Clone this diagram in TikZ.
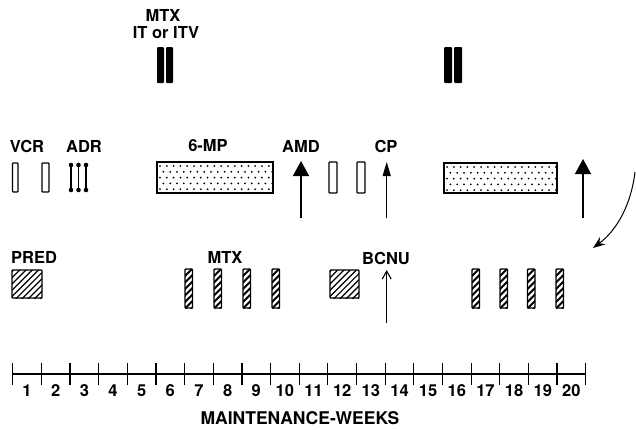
\documentclass[tikz,border=0pt]{standalone}
\usepackage{fontspec}
\setmainfont{TeX Gyre Heros}
\usetikzlibrary{arrows.meta}
\newcommand{\hatchrect}[6]{%
  \begin{scope}
    \clip (#1,#2) rectangle (#3,#4);
    \foreach \k in {0,#5,...,96} \draw[line width=#6] (#1-46+\k,#4+1) -- ++(70,-70);
  \end{scope}
  \draw[line width=1.3pt, rounded corners=0.8pt] (#1,#2) rectangle (#3,#4);
}
\newcommand{\stipplebox}[4]{%
  \begin{scope}
    \clip (#1,#2) rectangle (#3,#4);
    \foreach \r in {0,...,4} {
      \pgfmathsetmacro\off{mod(\r,2)*3.4}
      \foreach \xx in {0,6.8,...,120}
        \fill (#1+3+\off+\xx, #2+4+5.8*\r) circle (1.0);
    }
  \end{scope}
  \draw[line width=1.4pt] (#1,#2) rectangle (#3,#4);
}
\begin{document}
\begin{tikzpicture}[x=1pt,y=-1pt,
  lbl/.style={font=\fontsize{16.5}{19}\selectfont\bfseries, inner sep=0pt},
  pill/.style={draw, line width=1.3pt, rounded corners=0.8pt},
  solidbar/.style={fill=black, rounded corners=1pt},
  bigarrow/.style={line width=1.5pt, -{Triangle[width=16pt,length=15pt]}},
  thinarrow/.style={line width=1.1pt, -{Triangle[width=8pt,length=14pt]}},
  openarrow/.style={line width=1.1pt, -{Straight Barb[width=9pt,length=8pt]}},
  axisline/.style={line width=1.4pt}]
\useasboundingbox (0,0) rectangle (636,429);

% ---- top: MTX IT or ITV
\node[lbl] (mtxa) at (163,15) {MTX};
\node[lbl] (mtxb) at (166,33) {IT or ITV};
\fill[solidbar] (157,47) rectangle (164,83);
\fill[solidbar] (166,47) rectangle (173,83);
\fill[solidbar] (444,47) rectangle (452,83);
\fill[solidbar] (454,47) rectangle (462,83);

% ---- row 2
\node[lbl] (vcr) at (27,146) {VCR};
\node[lbl] (adr) at (84,146) {ADR};
\node[lbl] (mp) at (208,146) {6-MP};
\node[lbl] (amd) at (301,146) {AMD};
\node[lbl] (cp) at (386,146) {CP};

\draw[pill] (12.5,163) rectangle (18,192);
\draw[pill] (42,163) rectangle (49,192);
\foreach \x in {71,78.5,86} {
  \draw[line width=1.1pt] (\x,165) -- (\x,190);
  \fill (\x,165) circle (2.3);
  \fill (\x,190) circle (2.3);
}
\stipplebox{157}{162}{273}{193}
\coordinate (amdB) at (301,218);
\coordinate (amdT) at (301,161);
\draw[bigarrow] (amdB) -- (amdT);
\draw[pill] (329,162) rectangle (337,193);
\draw[pill] (357,162) rectangle (365,193);
\coordinate (cpB) at (386.7,218);
\coordinate (cpT) at (386.7,162);
\draw[thinarrow] (cpB) -- (cpT);
\stipplebox{444}{163}{557}{193}
\coordinate (rB) at (583,218);
\coordinate (rT) at (583,159);
\draw[bigarrow] (rB) -- (rT);
\coordinate (cS) at (635,172);
\coordinate (cE) at (593,248);
\draw[line width=1pt, -{Stealth[width=9pt,length=12pt]}] (cS) .. controls (631,205) and (617,230) .. (cE);

% ---- row 3
\node[lbl] (pred) at (34,257) {PRED};
\node[lbl] (mtx2) at (225,257) {MTX};
\node[lbl] (bcnu) at (386,258) {BCNU};
\hatchrect{12}{270}{42}{298}{6.2}{1.2pt}
\hatchrect{330}{270}{359}{298}{6.2}{1.2pt}
\foreach \x in {185,214,243,272,472,500,527.5,556}
  \hatchrect{\x}{269}{\x+7.5}{308}{6.5}{1.9pt}
\coordinate (bB) at (386.7,323);
\coordinate (bT) at (386.7,270);
\draw[openarrow] (bB) -- (bT);

% ---- axis
\coordinate (ax0) at (12.7,374);
\coordinate (ax20) at (585.7,374);
\draw[axisline] (ax0) -- (ax20);
\foreach \i in {0,...,20}
  \draw[line width=1.2pt] (12.7+28.65*\i,363) -- ++(0,22);
\foreach \i in {1,...,20}
  \node[lbl] (w\i) at (12.7+28.65*\i-14.3,391) {\i};
\node[lbl, font=\fontsize{17.5}{20}\selectfont\bfseries] (mw) at (300,418) {MAINTENANCE-WEEKS};
\end{tikzpicture}
\end{document}
